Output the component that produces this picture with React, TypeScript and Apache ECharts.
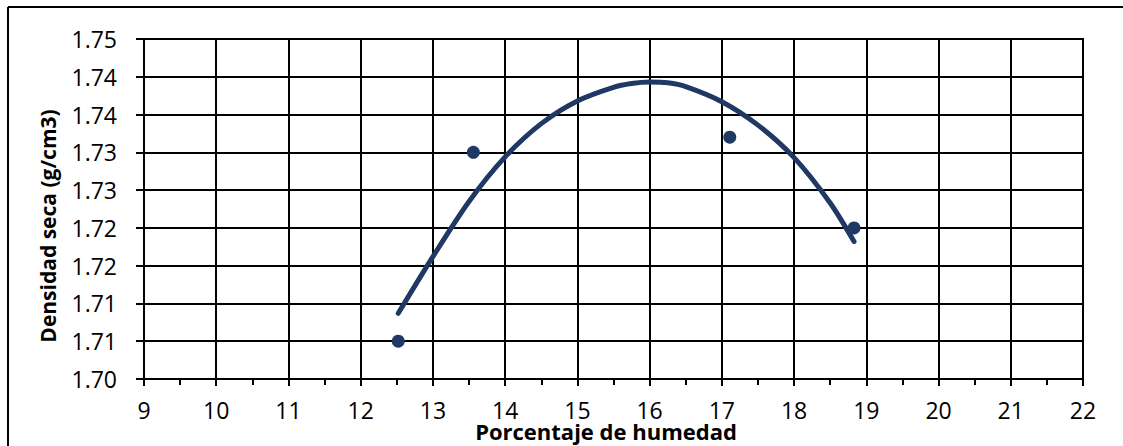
import React, { useEffect, useRef } from "react";
import * as echarts from "echarts";

const humedad = [12.52, 13.56, 17.11, 18.83];
const densidad = [1.705, 1.73, 1.732, 1.72];

const curveX = [12.52, 13.0, 13.5, 14.0, 14.5, 15.0, 15.5, 15.75, 16.0, 16.25, 16.5, 17.0, 17.5, 18.0, 18.5, 18.83];
const curveY = [1.7087, 1.7162, 1.7235, 1.7294, 1.7338, 1.7368, 1.7386, 1.7391, 1.7393, 1.7392, 1.7387, 1.7367, 1.7336, 1.7293, 1.7233, 1.7182];

const yTickLabels = ["1.70", "1.71", "1.71", "1.72", "1.72", "1.73", "1.73", "1.74", "1.74", "1.75"];
const xTickLabels = ["9", "10", "11", "12", "13", "14", "15", "16", "17", "18", "19", "20", "21", "22"];

const xTitle = "Porcentaje de humedad";
const yTitle = "Densidad seca (g/cm3)";

const NAVY = "#1F3864";
const FONT = "'Open Sans', 'Liberation Sans', sans-serif";

export default function App() {
  const ref = useRef<HTMLDivElement>(null);
  useEffect(() => {
    document.body.style.margin = "0";
    const chart = echarts.init(ref.current!, null, { renderer: "svg" });
    chart.setOption({
      animation: false,
      backgroundColor: "#ffffff",
      grid: {
        left: 144,
        top: 39,
        right: 1123 - 1083,
        bottom: 446 - 379,
        show: true,
        borderColor: "#000",
        borderWidth: 2,
      },
      xAxis: {
        type: "value",
        min: 9,
        max: 22,
        interval: 1,
        axisLine: { show: true, onZero: false, lineStyle: { color: "#000", width: 2 } },
        axisTick: { show: true, inside: false, length: 7, lineStyle: { color: "#000", width: 2 } },
        minorTick: { show: true, splitNumber: 2, length: 6, lineStyle: { color: "#000", width: 2 } },
        splitLine: { show: true, lineStyle: { color: "#000", width: 2 } },
        axisLabel: {
          color: "#000",
          fontFamily: FONT,
          fontSize: 23,
          margin: 19,
          formatter: (v: number) => {
            const i = Math.round(v - 9);
            return xTickLabels[i] ?? "";
          },
        },
      },
      yAxis: {
        type: "value",
        min: 1.7,
        max: 1.745,
        interval: 0.005,
        axisLine: { show: true, onZero: false, lineStyle: { color: "#000", width: 2 } },
        axisTick: { show: true, inside: false, length: 8, lineStyle: { color: "#000", width: 2 } },
        splitLine: { show: true, lineStyle: { color: "#000", width: 2 } },
        axisLabel: {
          color: "#000",
          fontFamily: FONT,
          fontSize: 23,
          margin: 27,
          formatter: (v: number) => {
            const i = Math.round((v - 1.7) / 0.005);
            return yTickLabels[i] ?? "";
          },
        },
      },
      series: [
        {
          type: "line",
          data: curveX.map((x, i) => [x, curveY[i]]),
          smooth: 0.3,
          showSymbol: false,
          symbol: "none",
          lineStyle: { color: NAVY, width: 5, cap: "round" },
          z: 3,
        },
        {
          type: "scatter",
          data: humedad.map((x, i) => [x, densidad[i]]),
          symbol: "circle",
          symbolSize: 13,
          itemStyle: { color: NAVY, opacity: 1 },
          z: 4,
        },
      ],
      graphic: [
        {
          type: "line",
          shape: { x1: 8, y1: 7, x2: 1123, y2: 7 },
          style: { stroke: "#000", lineWidth: 2 },
        },
        {
          type: "line",
          shape: { x1: 8, y1: 7, x2: 8, y2: 446 },
          style: { stroke: "#000", lineWidth: 2 },
        },
        {
          type: "text",
          x: 606,
          y: 431,
          style: {
            text: xTitle,
            fill: "#000",
            font: `bold 22px ${FONT}`,
            align: "center",
            verticalAlign: "middle",
          },
        },
        {
          type: "text",
          x: 48,
          y: 226,
          rotation: Math.PI / 2,
          style: {
            text: yTitle,
            fill: "#000",
            font: `bold 21px ${FONT}`,
            align: "center",
            verticalAlign: "middle",
          },
        },
      ],
    });
    return () => chart.dispose();
  }, []);
  return (
    <div
      ref={ref}
      style={{ position: "fixed", left: 0, top: 0, width: 1123, height: 446 }}
    />
  );
}
